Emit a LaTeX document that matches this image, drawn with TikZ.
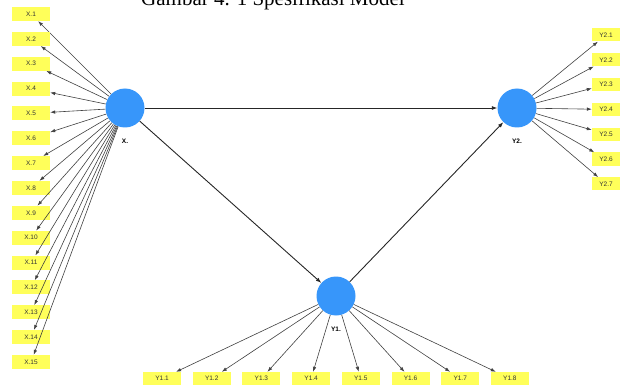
\documentclass[tikz,border=0pt]{standalone}
\usepackage{fontspec}
\setmainfont{Liberation Sans}
\newfontfamily\titlefont{Liberation Serif}
\usetikzlibrary{arrows.meta}
\definecolor{lvblue}{RGB}{55,150,250}
\definecolor{indyel}{RGB}{255,255,90}
\tikzset{
  lv/.style={circle, fill=lvblue, minimum size=39pt, inner sep=0pt},
  lvlabel/.style={font=\bfseries\fontsize{6.5}{7}\selectfont, inner sep=0pt},
  indx/.style={fill=indyel, minimum width=38pt, minimum height=14pt, inner sep=0pt, font=\fontsize{6.5}{7}\selectfont, text=black!80},
  indy/.style={fill=indyel, minimum width=38pt, minimum height=13pt, inner sep=0pt, font=\fontsize{6.5}{7}\selectfont, text=black!80},
  indz/.style={fill=indyel, minimum width=28pt, minimum height=13pt, inner sep=0pt, font=\fontsize{6.5}{7}\selectfont, text=black!80},
  meas/.style={draw=black!75, line width=0.6pt, -{Latex[length=5pt,width=3.5pt]}},
  struct/.style={draw=black!85, line width=0.9pt, -{Latex[length=5.5pt,width=4pt]}}
}
\begin{document}
\begin{tikzpicture}[x=1pt,y=-1pt]
\useasboundingbox (0,0) rectangle (621,385);
\clip (0,0) rectangle (621,385);
\node[font=\titlefont\fontsize{21}{21}\selectfont, anchor=base, inner sep=0pt] (title) at (273,6) {Gambar 4. 1 Spesifikasi Model};
\node[lv] (X) at (125,108) {};
\node[lv] (Y2) at (517,108) {};
\node[lv] (Y1) at (336,296) {};
\node[lvlabel] (Xl) at (125,141) {X.};
\node[lvlabel] (Y2l) at (517,141) {Y2.};
\node[lvlabel] (Y1l) at (336,329) {Y1.};
\foreach \i in {1,...,15} {
  \node[indx] (x\i) at (31,{14+(\i-1)*24.86}) {X.\i};
  \draw[meas] (X) -- (x\i);
}
\foreach \i in {1,...,7} {
  \node[indz] (z\i) at (606,{35+(\i-1)*24.8}) {Y2.\i};
  \draw[meas] (Y2) -- (z\i);
}
\foreach \i in {1,...,8} {
  \node[indy] (y\i) at ({162+(\i-1)*49.7},378.5) {Y1.\i};
  \draw[meas] (Y1) -- (y\i);
}
\draw[struct] (X) -- (Y2);
\draw[struct] (X) -- (Y1);
\draw[struct] (Y1) -- (Y2);
\end{tikzpicture}
\end{document}
